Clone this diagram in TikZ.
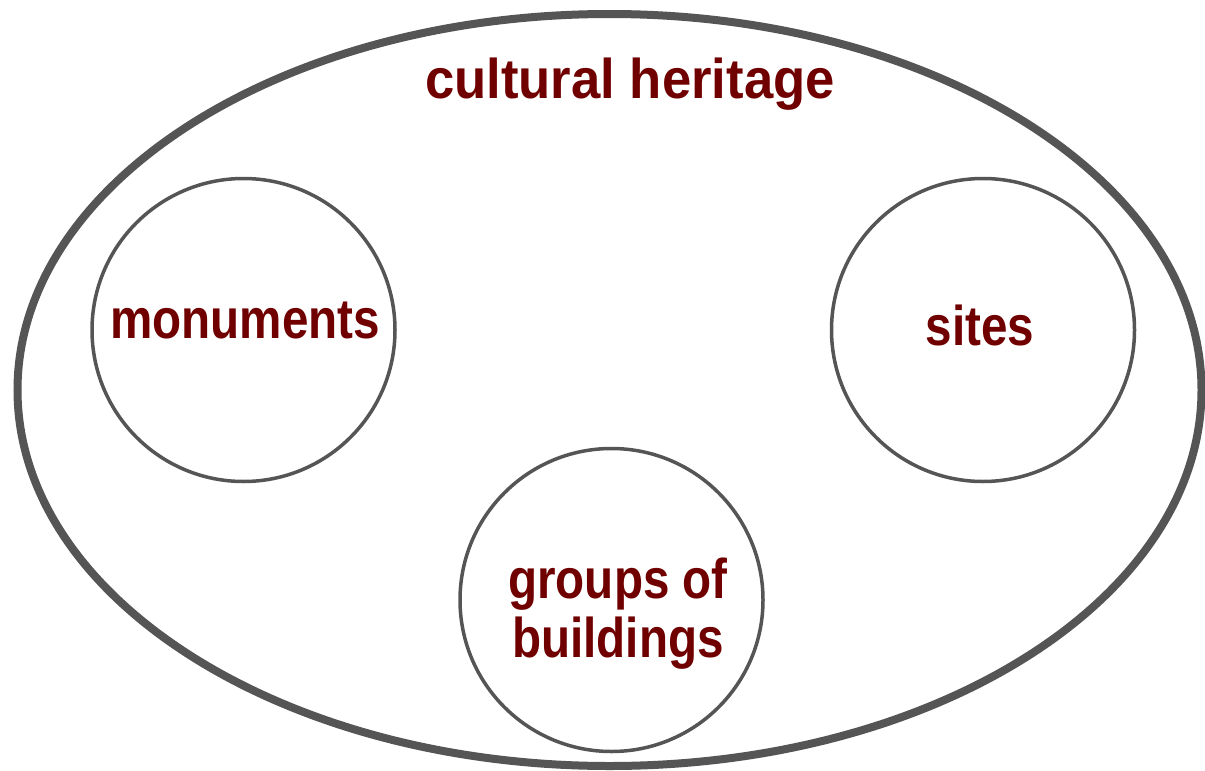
\documentclass[tikz,border=0pt]{standalone}
\usepackage{fontspec}
\setmainfont{Liberation Sans}
\newfontfamily\labelfont{Liberation Sans}[FakeStretch=0.85]
\newfontfamily\titlefont{Liberation Sans}[FakeStretch=0.94]
\definecolor{textred}{HTML}{700000}
\definecolor{linegray}{HTML}{555555}
\begin{document}
\begin{tikzpicture}[x=1pt,y=-1pt,
  outerset/.style={draw=linegray,line width=8pt},
  setcircle/.style={draw=linegray,line width=3.5pt,circle,minimum size=303pt,inner sep=0pt},
  titletext/.style={text=textred,font=\titlefont\bfseries\fontsize{56}{59}\selectfont,anchor=base,inner sep=0pt},
  labeltext/.style={text=textred,font=\labelfont\bfseries\fontsize{56}{59}\selectfont,anchor=base,inner sep=0pt,align=center}]
\useasboundingbox (0,0) rectangle (1205,771);
\fill[white] (0,0) rectangle (1205,771);
\draw[outerset] (609.5,390) ellipse [x radius=592, y radius=376];
\node[setcircle] (mon) at (243.5,330) {};
\node[setcircle] (sit) at (983,330) {};
\node[setcircle] (grp) at (611.5,600) {};
\node[titletext] (title) at (630,98) {cultural heritage};
\node[labeltext] (monl) at (245,338) {monuments};
\node[labeltext] (sitl) at (980,345) {sites};
\node[labeltext] (grpl) at (618,657) {groups of\\buildings};
\end{tikzpicture}
\end{document}
